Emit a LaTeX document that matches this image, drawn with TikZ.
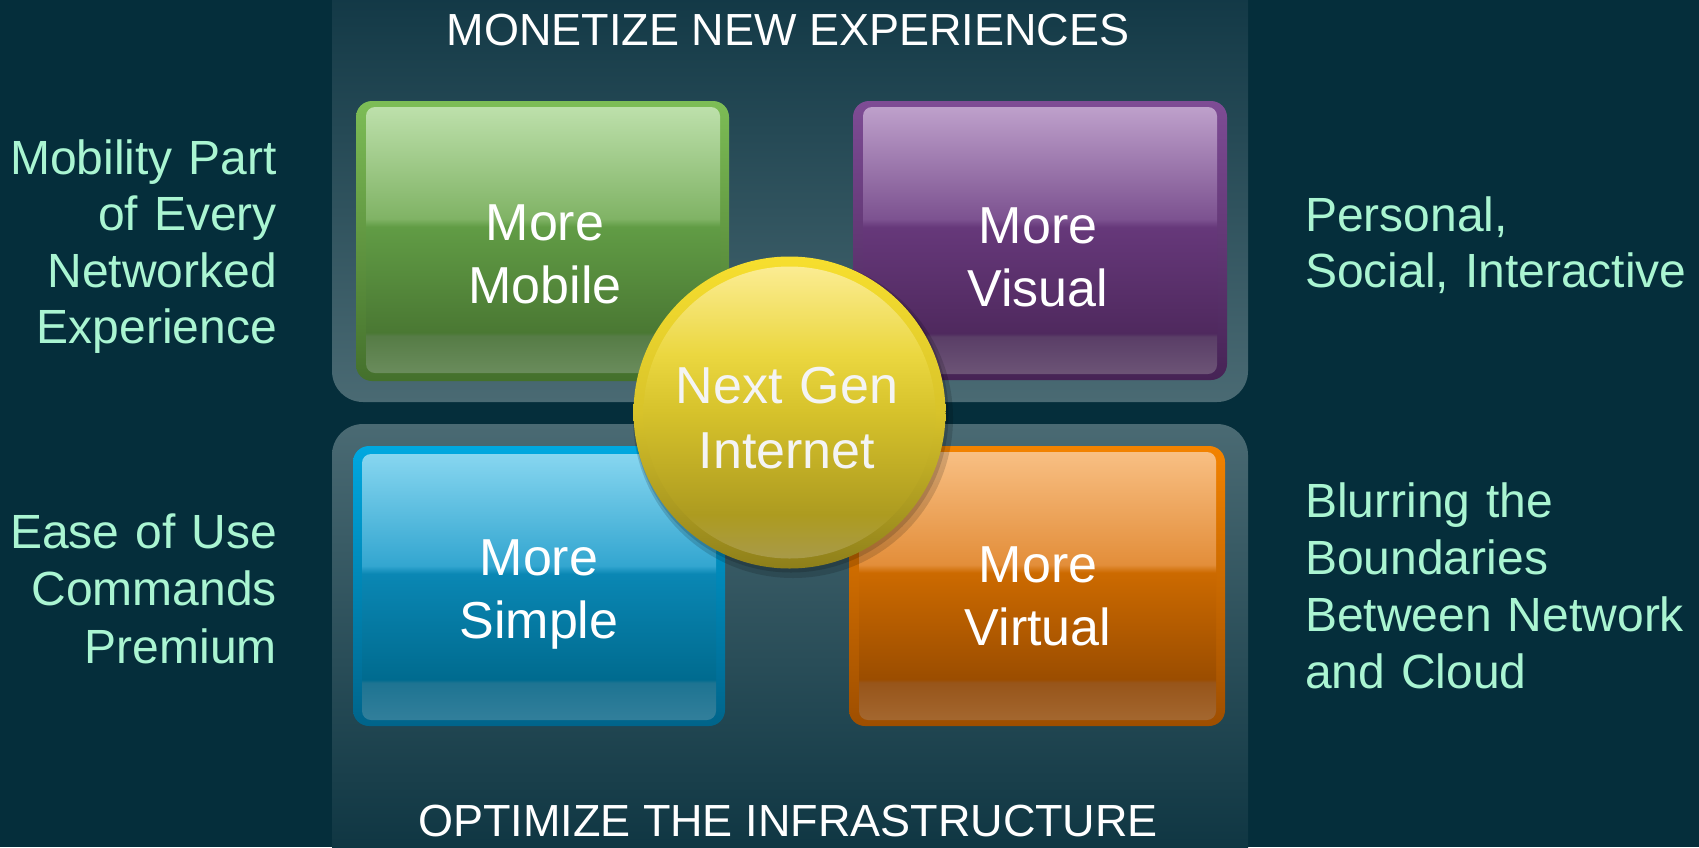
\documentclass[tikz,border=0pt]{standalone}
\usepackage{fontspec}
\setmainfont{Liberation Sans}
\definecolor{bg}{HTML}{052E3B}
\definecolor{mint}{HTML}{AAF5D2}
\definecolor{pTop}{HTML}{0B3240}
\definecolor{pMidT}{HTML}{22475A}
\definecolor{pMid}{HTML}{4A6A73}
\definecolor{pMidB}{HTML}{2A4D58}
\definecolor{pBot}{HTML}{08303D}
% green
\definecolor{gBT}{HTML}{7DBD56}\definecolor{gBB}{HTML}{44702C}
\definecolor{gT}{HTML}{BDE0AB}\definecolor{gH}{HTML}{80B365}\definecolor{gM}{HTML}{619C45}
\definecolor{gB}{HTML}{4A7833}\definecolor{gSa}{HTML}{567C46}\definecolor{gSb}{HTML}{6A8C5C}
% purple
\definecolor{vBT}{HTML}{7E4C95}\definecolor{vBB}{HTML}{462355}
\definecolor{vT}{HTML}{BEA0CB}\definecolor{vH}{HTML}{7C5290}\definecolor{vM}{HTML}{66387A}
\definecolor{vB}{HTML}{4F295E}\definecolor{vSa}{HTML}{5A3E67}\definecolor{vSb}{HTML}{6C5476}
% blue
\definecolor{bBT}{HTML}{00A8E0}\definecolor{bBB}{HTML}{00648A}
\definecolor{bT}{HTML}{87D6F0}\definecolor{bH}{HTML}{33A6D0}\definecolor{bM}{HTML}{0A87B4}
\definecolor{bB}{HTML}{006B8F}\definecolor{bSa}{HTML}{1E7492}\definecolor{bSb}{HTML}{327F9B}
% orange
\definecolor{oBT}{HTML}{F38300}\definecolor{oBB}{HTML}{9E4E00}
\definecolor{oT}{HTML}{F8BF83}\definecolor{oH}{HTML}{E38E3A}\definecolor{oM}{HTML}{CC6A00}
\definecolor{oB}{HTML}{9B4D00}\definecolor{oSa}{HTML}{97551A}\definecolor{oSb}{HTML}{A4672F}
% gold
\definecolor{yOT}{HTML}{F7DF2E}\definecolor{yOM}{HTML}{D8C32A}\definecolor{yOB}{HTML}{8E7F1A}
\definecolor{yT}{HTML}{FBEC92}\definecolor{yH}{HTML}{EBD740}\definecolor{yM}{HTML}{D6C22B}
\definecolor{yB}{HTML}{AD9B20}\definecolor{yS}{HTML}{A89A48}
\definecolor{ngtext}{HTML}{F4F4F4}

\newcommand{\mkglass}[7]{%
  \pgfdeclareverticalshading{#1}{100bp}{color(0bp)=(#7); color(25bp)=(#7);
    color(32bp)=(#6); color(32.6bp)=(#5); color(52.5bp)=(#4); color(54bp)=(#3);
    color(75bp)=(#2); color(100bp)=(#2)}}
\mkglass{gGlass}{gT}{gH}{gM}{gB}{gSa}{gSb}
\mkglass{vGlass}{vT}{vH}{vM}{vB}{vSa}{vSb}
\mkglass{bGlass}{bT}{bH}{bM}{bB}{bSa}{bSb}
\mkglass{oGlass}{oT}{oH}{oM}{oB}{oSa}{oSb}
\pgfdeclareverticalshading{goldOuter}{100bp}{color(0bp)=(yOB); color(25bp)=(yOB);
  color(50bp)=(yOM); color(75bp)=(yOT); color(100bp)=(yOT)}
\pgfdeclareverticalshading{goldInner}{100bp}{color(0bp)=(yS); color(25bp)=(yS);
  color(32.5bp)=(yB); color(50bp)=(yM); color(60bp)=(yH); color(75bp)=(yT); color(100bp)=(yT)}

\begin{document}
\begin{tikzpicture}[x=1pt,y=-1pt,
  side/.style={text=mint, inner sep=0pt, text width=420pt, font=\fontsize{48}{56.5}\selectfont},
  title/.style={text=white, inner sep=0pt, anchor=base, font=\fontsize{45}{54}\selectfont},
  boxtxt/.style={text=white, inner sep=0pt, anchor=base, align=center, text width=360pt, font=\fontsize{52}{63.5}\selectfont},
  outerbox/.style={rounded corners=16pt},
  innerbox/.style={rounded corners=9pt},
]
\useasboundingbox (0,0) rectangle (1699,847);
\fill[bg] (0,0) rectangle (1699,847);

% panels
\shade[top color=pTop, middle color=pMidT, bottom color=pMid, rounded corners=31pt] (332,-60) rectangle (1248,402);
\shade[top color=pMid, middle color=pMidB, bottom color=pBot, rounded corners=31pt] (332,424) rectangle (1248,900);

% green box
\shade[outerbox, top color=gBT, bottom color=gBB] (356,101) rectangle (729,381);
\shade[innerbox, shading=gGlass] (366,107) rectangle (720,373);
% purple box
\shade[outerbox, top color=vBT, bottom color=vBB] (853,101) rectangle (1227,380);
\shade[innerbox, shading=vGlass] (863,107) rectangle (1217,374);
% blue box
\shade[outerbox, top color=bBT, bottom color=bBB] (353,446) rectangle (725,726);
\shade[innerbox, shading=bGlass] (362,454) rectangle (716,720);
% orange box
\shade[outerbox, top color=oBT, bottom color=oBB] (849,446) rectangle (1225,726);
\shade[innerbox, shading=oGlass] (859,452) rectangle (1216,720);

% box texts
\node[boxtxt] (mob) at (545,240) {More\\Mobile};
\node[boxtxt] (vis) at (1038,243) {More\\Visual};
\node[boxtxt] (sim) at (539,575) {More\\Simple};
\node[boxtxt] (vir) at (1038,582) {More\\Virtual};

% central circle
\fill[black, opacity=0.15] (793,418) circle (160pt);
\fill[black, opacity=0.15] (791,415) circle (157.5pt);
\shade[shading=goldOuter] (789.5,412.5) circle (156pt);
\shade[shading=goldInner] (789.5,412.5) circle (146pt);
\node[boxtxt, text=ngtext, font=\fontsize{52}{65}\selectfont] (ng) at (787,403) {Next Gen\\Internet};

% titles
\node[title] (topT) at (788,45) {MONETIZE NEW EXPERIENCES};
\node[title] (botT) at (788,836) {OPTIMIZE THE INFRASTRUCTURE};

% side labels
\node[side, align=right, anchor=base east] (lMob) at (277,174) {Mobility Part\\of Every\\Networked\\Experience};
\node[side, align=right, anchor=base east, font=\fontsize{48}{57.5}\selectfont] (lEase) at (277,548) {Ease of Use\\Commands\\Premium};
\node[side, align=left, anchor=base west, font=\fontsize{48}{56}\selectfont] (rPers) at (1305,231) {Personal,\\Social, Interactive};
\node[side, align=left, anchor=base west, font=\fontsize{48}{57}\selectfont] (rBlur) at (1305,517) {Blurring the\\Boundaries\\Between Network\\and Cloud};
\end{tikzpicture}
\end{document}
